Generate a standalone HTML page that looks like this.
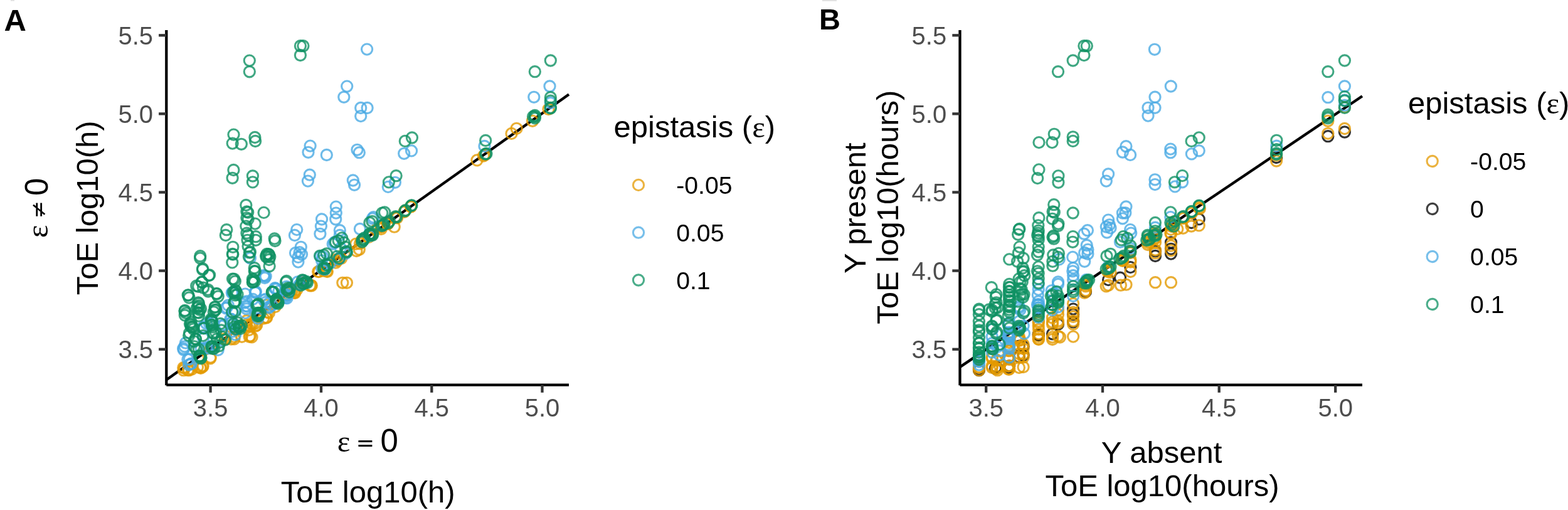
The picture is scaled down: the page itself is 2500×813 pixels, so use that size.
<!DOCTYPE html>
<html><head><meta charset="utf-8"><style>
html,body{margin:0;padding:0;background:#fff;}
svg{display:block;}
text{font-family:"Liberation Sans",Arial,sans-serif;}
.tk{font-size:40px;fill:#4D4D4D;}
.tt{font-size:49px;fill:#000;}
.lb{font-size:39.2px;fill:#000;}
.ser{font-family:"Liberation Serif","DejaVu Serif",serif;}
.dj{font-family:"DejaVu Sans",sans-serif;fill:#000;}
.pl{font-size:49px;font-weight:bold;fill:#000;}
.pts circle{fill:none;stroke-width:3.1;stroke-opacity:0.8;}
</style></head><body>
<svg width="2500" height="813" viewBox="0 0 2500 813">
<rect width="2500" height="813" fill="#fff"/>
<rect x="17" y="0" width="6" height="1.6" fill="#dedede"/>
<rect x="1311" y="0" width="23" height="2" fill="#e2e2e2"/>
<text x="6.4" y="48.6" class="pl">A</text>
<text x="1306" y="47.2" class="pl" style="font-size:47px">B</text>
<text x="537.8" y="719.5" class="tt ser">ε</text>
<text x="567.7" y="718.3" class="dj" style="font-size:35px">=</text>
<text x="606.6" y="719.5" class="tt" style="font-size:51px">0</text>
<text x="586.7" y="801.2" class="tt" text-anchor="middle">ToE log10(h)</text>
<g transform="translate(76,379.3) rotate(-90)"><text x="0" y="0" class="tt ser">ε</text><text x="30.9" y="-2.9" class="dj" style="font-size:34px">≠</text><text x="67.3" y="0" class="tt" style="font-size:51px">0</text></g>
<text transform="translate(156.1,331.3) rotate(-90)" class="tt" text-anchor="middle">ToE log10(h)</text>
<text x="1852.1" y="738.2" class="tt" text-anchor="middle">Y absent</text>
<text x="1853" y="791.3" class="tt" text-anchor="middle">ToE log10(hours)</text>
<text transform="translate(1380.2,331.7) rotate(-90)" class="tt" text-anchor="middle">Y present</text>
<text transform="translate(1432.2,330.2) rotate(-90)" class="tt" text-anchor="middle">ToE log10(hours)</text>
<text x="978.6" y="218.6" class="tt">epistasis (<tspan class="ser">ε</tspan>)</text>
<circle cx="1018" cy="294.9" r="8.6" fill="none" stroke="#E49A00" stroke-width="3.1" stroke-opacity="0.75"/>
<text x="1078.2" y="309.0" class="lb">-0.05</text>
<circle cx="1018" cy="370.7" r="8.6" fill="none" stroke="#4AAAE3" stroke-width="3.1" stroke-opacity="0.75"/>
<text x="1078.2" y="384.8" class="lb">0.05</text>
<circle cx="1018" cy="446.5" r="8.6" fill="none" stroke="#0F9163" stroke-width="3.1" stroke-opacity="0.75"/>
<text x="1078.2" y="460.6" class="lb">0.1</text>
<text x="2244.9" y="180.5" class="tt">epistasis (<tspan class="ser">ε</tspan>)</text>
<circle cx="2283.7" cy="257.0" r="8.6" fill="none" stroke="#E49A00" stroke-width="3.1" stroke-opacity="0.75"/>
<text x="2344.1" y="271.3" class="lb">-0.05</text>
<circle cx="2283.7" cy="333.0" r="8.6" fill="none" stroke="#000000" stroke-width="3.1" stroke-opacity="0.75"/>
<text x="2344.1" y="347.3" class="lb">0</text>
<circle cx="2283.7" cy="409.0" r="8.6" fill="none" stroke="#4AAAE3" stroke-width="3.1" stroke-opacity="0.75"/>
<text x="2344.1" y="423.3" class="lb">0.05</text>
<circle cx="2283.7" cy="485.0" r="8.6" fill="none" stroke="#0F9163" stroke-width="3.1" stroke-opacity="0.75"/>
<text x="2344.1" y="499.3" class="lb">0.1</text>
<line x1="265.3" y1="605.5" x2="907" y2="150.6" stroke="#000" stroke-width="4.3" stroke-linecap="butt"/>
<line x1="1530.5" y1="585.1" x2="2172" y2="153.3" stroke="#000" stroke-width="4.3" stroke-linecap="butt"/>
<g class="pts">
<circle cx="815.5" cy="212.9" r="8.6" stroke="#E49A00"/>
<circle cx="823.6" cy="204.8" r="8.6" stroke="#E49A00"/>
<circle cx="874.5" cy="174.0" r="8.6" stroke="#E49A00"/>
<circle cx="849.0" cy="192.8" r="8.6" stroke="#E49A00"/>
<circle cx="573.9" cy="388.3" r="8.6" stroke="#E49A00"/>
<circle cx="602.7" cy="361.7" r="8.6" stroke="#E49A00"/>
<circle cx="655.3" cy="329.6" r="8.6" stroke="#E49A00"/>
<circle cx="645.4" cy="336.2" r="8.6" stroke="#E49A00"/>
<circle cx="633.2" cy="347.3" r="8.6" stroke="#E49A00"/>
<circle cx="618.8" cy="356.2" r="8.6" stroke="#E49A00"/>
<circle cx="628.7" cy="361.7" r="8.6" stroke="#E49A00"/>
<circle cx="607.7" cy="365.0" r="8.6" stroke="#E49A00"/>
<circle cx="592.2" cy="375.0" r="8.6" stroke="#E49A00"/>
<circle cx="760.5" cy="255.4" r="8.6" stroke="#E49A00"/>
<circle cx="770.9" cy="248.6" r="8.6" stroke="#E49A00"/>
<circle cx="520.8" cy="432.0" r="8.6" stroke="#E49A00"/>
<circle cx="508.6" cy="433.1" r="8.6" stroke="#E49A00"/>
<circle cx="537.4" cy="415.4" r="8.6" stroke="#E49A00"/>
<circle cx="535.2" cy="418.7" r="8.6" stroke="#E49A00"/>
<circle cx="544.1" cy="412.1" r="8.6" stroke="#E49A00"/>
<circle cx="568.4" cy="400.0" r="8.6" stroke="#E49A00"/>
<circle cx="572.8" cy="397.7" r="8.6" stroke="#E49A00"/>
<circle cx="567.3" cy="388.9" r="8.6" stroke="#E49A00"/>
<circle cx="546.3" cy="450.8" r="8.6" stroke="#E49A00"/>
<circle cx="552.9" cy="450.8" r="8.6" stroke="#E49A00"/>
<circle cx="494.2" cy="455.3" r="8.6" stroke="#E49A00"/>
<circle cx="473.2" cy="461.9" r="8.6" stroke="#E49A00"/>
<circle cx="468.8" cy="465.2" r="8.6" stroke="#E49A00"/>
<circle cx="465.8" cy="464.1" r="8.6" stroke="#E49A00"/>
<circle cx="470.2" cy="467.1" r="8.6" stroke="#E49A00"/>
<circle cx="424.4" cy="486.3" r="8.6" stroke="#E49A00"/>
<circle cx="496.8" cy="455.3" r="8.6" stroke="#E49A00"/>
<circle cx="507.1" cy="433.1" r="8.6" stroke="#E49A00"/>
<circle cx="521.8" cy="433.1" r="8.6" stroke="#E49A00"/>
<circle cx="535.1" cy="414.0" r="8.6" stroke="#E49A00"/>
<circle cx="393.0" cy="517.8" r="8.6" stroke="#E49A00"/>
<circle cx="406.7" cy="515.8" r="8.6" stroke="#E49A00"/>
<circle cx="398.9" cy="535.5" r="8.6" stroke="#E49A00"/>
<circle cx="359.5" cy="535.5" r="8.6" stroke="#E49A00"/>
<circle cx="420.0" cy="507.6" r="8.6" stroke="#E49A00"/>
<circle cx="402.8" cy="516.2" r="8.6" stroke="#E49A00"/>
<circle cx="359.7" cy="540.3" r="8.6" stroke="#E49A00"/>
<circle cx="373.5" cy="540.3" r="8.6" stroke="#E49A00"/>
<circle cx="385.6" cy="536.8" r="8.6" stroke="#E49A00"/>
<circle cx="397.6" cy="536.8" r="8.6" stroke="#E49A00"/>
<circle cx="397.6" cy="519.6" r="8.6" stroke="#E49A00"/>
<circle cx="335.6" cy="569.6" r="8.6" stroke="#E49A00"/>
<circle cx="294.3" cy="586.8" r="8.6" stroke="#E49A00"/>
<circle cx="292.6" cy="590.2" r="8.6" stroke="#E49A00"/>
<circle cx="301.2" cy="590.2" r="8.6" stroke="#E49A00"/>
<circle cx="320.1" cy="586.8" r="8.6" stroke="#E49A00"/>
<circle cx="315.0" cy="585.1" r="8.6" stroke="#E49A00"/>
<circle cx="323.6" cy="583.3" r="8.6" stroke="#E49A00"/>
<circle cx="463.5" cy="465.1" r="8.6" stroke="#E49A00"/>
<circle cx="469.4" cy="466.6" r="8.6" stroke="#E49A00"/>
<circle cx="495.9" cy="454.8" r="8.6" stroke="#E49A00"/>
<circle cx="426.6" cy="497.6" r="8.6" stroke="#E49A00"/>
<circle cx="425.1" cy="506.4" r="8.6" stroke="#E49A00"/>
<circle cx="407.4" cy="519.7" r="8.6" stroke="#E49A00"/>
<circle cx="401.5" cy="537.4" r="8.6" stroke="#E49A00"/>
<circle cx="292.3" cy="586.1" r="8.6" stroke="#E49A00"/>
<circle cx="299.7" cy="589.8" r="8.6" stroke="#E49A00"/>
<circle cx="305.8" cy="588.6" r="8.6" stroke="#E49A00"/>
<circle cx="319.4" cy="586.1" r="8.6" stroke="#E49A00"/>
<circle cx="323.0" cy="584.9" r="8.6" stroke="#E49A00"/>
<circle cx="335.4" cy="571.3" r="8.6" stroke="#E49A00"/>
<circle cx="358.7" cy="540.6" r="8.6" stroke="#E49A00"/>
<circle cx="368.6" cy="540.6" r="8.6" stroke="#E49A00"/>
<circle cx="373.5" cy="536.9" r="8.6" stroke="#E49A00"/>
<circle cx="393.2" cy="511.2" r="8.6" stroke="#E49A00"/>
<circle cx="400.6" cy="516.1" r="8.6" stroke="#E49A00"/>
<circle cx="409.2" cy="518.6" r="8.6" stroke="#E49A00"/>
<circle cx="396.9" cy="526.0" r="8.6" stroke="#E49A00"/>
<circle cx="424.0" cy="506.3" r="8.6" stroke="#E49A00"/>
<circle cx="428.9" cy="498.9" r="8.6" stroke="#E49A00"/>
<circle cx="438.7" cy="489.0" r="8.6" stroke="#E49A00"/>
<circle cx="654.9" cy="329.1" r="8.6" stroke="#E49A00"/>
<circle cx="644.6" cy="337.9" r="8.6" stroke="#E49A00"/>
<circle cx="629.8" cy="346.7" r="8.6" stroke="#E49A00"/>
<circle cx="618.0" cy="357.0" r="8.6" stroke="#E49A00"/>
<circle cx="607.7" cy="361.5" r="8.6" stroke="#E49A00"/>
<circle cx="588.5" cy="374.7" r="8.6" stroke="#E49A00"/>
<circle cx="576.7" cy="383.5" r="8.6" stroke="#E49A00"/>
<circle cx="773.0" cy="247.0" r="8.6" stroke="#E49A00"/>
<circle cx="480.7" cy="450.0" r="8.6" stroke="#E49A00"/>
<circle cx="515.8" cy="431.6" r="8.6" stroke="#E49A00"/>
<circle cx="538.0" cy="415.0" r="8.6" stroke="#E49A00"/>
<circle cx="549.0" cy="404.0" r="8.6" stroke="#E49A00"/>
<circle cx="576.7" cy="385.5" r="8.6" stroke="#E49A00"/>
<circle cx="587.7" cy="378.0" r="8.6" stroke="#E49A00"/>
<circle cx="608.0" cy="361.5" r="8.6" stroke="#E49A00"/>
<circle cx="316.0" cy="570.5" r="8.6" stroke="#E49A00"/>
<circle cx="336.0" cy="555.0" r="8.6" stroke="#E49A00"/>
<circle cx="378.0" cy="524.0" r="8.6" stroke="#E49A00"/>
<circle cx="409.0" cy="502.0" r="8.6" stroke="#E49A00"/>
<circle cx="438.0" cy="482.0" r="8.6" stroke="#E49A00"/>
<circle cx="458.0" cy="468.6" r="8.6" stroke="#E49A00"/>
<circle cx="553.2" cy="137.6" r="8.6" stroke="#4AAAE3"/>
<circle cx="548.3" cy="154.8" r="8.6" stroke="#4AAAE3"/>
<circle cx="585.1" cy="78.6" r="8.6" stroke="#4AAAE3"/>
<circle cx="575.2" cy="172.0" r="8.6" stroke="#4AAAE3"/>
<circle cx="585.6" cy="172.0" r="8.6" stroke="#4AAAE3"/>
<circle cx="575.2" cy="185.1" r="8.6" stroke="#4AAAE3"/>
<circle cx="772.5" cy="233.0" r="8.6" stroke="#4AAAE3"/>
<circle cx="876.5" cy="137.5" r="8.6" stroke="#4AAAE3"/>
<circle cx="851.3" cy="154.8" r="8.6" stroke="#4AAAE3"/>
<circle cx="877.8" cy="164.0" r="8.6" stroke="#4AAAE3"/>
<circle cx="494.6" cy="232.6" r="8.6" stroke="#4AAAE3"/>
<circle cx="491.5" cy="242.8" r="8.6" stroke="#4AAAE3"/>
<circle cx="520.8" cy="247.0" r="8.6" stroke="#4AAAE3"/>
<circle cx="569.5" cy="238.8" r="8.6" stroke="#4AAAE3"/>
<circle cx="572.8" cy="243.2" r="8.6" stroke="#4AAAE3"/>
<circle cx="493.8" cy="278.7" r="8.6" stroke="#4AAAE3"/>
<circle cx="490.9" cy="288.6" r="8.6" stroke="#4AAAE3"/>
<circle cx="562.8" cy="287.5" r="8.6" stroke="#4AAAE3"/>
<circle cx="565.0" cy="294.8" r="8.6" stroke="#4AAAE3"/>
<circle cx="535.8" cy="329.6" r="8.6" stroke="#4AAAE3"/>
<circle cx="535.8" cy="339.6" r="8.6" stroke="#4AAAE3"/>
<circle cx="535.2" cy="349.5" r="8.6" stroke="#4AAAE3"/>
<circle cx="513.0" cy="349.5" r="8.6" stroke="#4AAAE3"/>
<circle cx="511.9" cy="360.6" r="8.6" stroke="#4AAAE3"/>
<circle cx="510.4" cy="372.8" r="8.6" stroke="#4AAAE3"/>
<circle cx="473.2" cy="366.1" r="8.6" stroke="#4AAAE3"/>
<circle cx="469.9" cy="375.0" r="8.6" stroke="#4AAAE3"/>
<circle cx="479.8" cy="393.8" r="8.6" stroke="#4AAAE3"/>
<circle cx="541.8" cy="367.2" r="8.6" stroke="#4AAAE3"/>
<circle cx="541.8" cy="375.0" r="8.6" stroke="#4AAAE3"/>
<circle cx="534.0" cy="386.0" r="8.6" stroke="#4AAAE3"/>
<circle cx="573.9" cy="365.0" r="8.6" stroke="#4AAAE3"/>
<circle cx="593.8" cy="348.4" r="8.6" stroke="#4AAAE3"/>
<circle cx="644.2" cy="244.8" r="8.6" stroke="#4AAAE3"/>
<circle cx="656.0" cy="240.4" r="8.6" stroke="#4AAAE3"/>
<circle cx="629.9" cy="290.8" r="8.6" stroke="#4AAAE3"/>
<circle cx="618.8" cy="297.9" r="8.6" stroke="#4AAAE3"/>
<circle cx="595.5" cy="346.2" r="8.6" stroke="#4AAAE3"/>
<circle cx="477.6" cy="402.1" r="8.6" stroke="#4AAAE3"/>
<circle cx="481.0" cy="405.5" r="8.6" stroke="#4AAAE3"/>
<circle cx="475.4" cy="409.9" r="8.6" stroke="#4AAAE3"/>
<circle cx="475.4" cy="417.6" r="8.6" stroke="#4AAAE3"/>
<circle cx="471.0" cy="403.2" r="8.6" stroke="#4AAAE3"/>
<circle cx="510.8" cy="408.8" r="8.6" stroke="#4AAAE3"/>
<circle cx="513.0" cy="415.4" r="8.6" stroke="#4AAAE3"/>
<circle cx="513.0" cy="427.6" r="8.6" stroke="#4AAAE3"/>
<circle cx="533.0" cy="386.6" r="8.6" stroke="#4AAAE3"/>
<circle cx="543.0" cy="395.5" r="8.6" stroke="#4AAAE3"/>
<circle cx="550.7" cy="404.4" r="8.6" stroke="#4AAAE3"/>
<circle cx="423.7" cy="440.5" r="8.6" stroke="#4AAAE3"/>
<circle cx="439.2" cy="459.7" r="8.6" stroke="#4AAAE3"/>
<circle cx="456.9" cy="456.8" r="8.6" stroke="#4AAAE3"/>
<circle cx="455.4" cy="474.5" r="8.6" stroke="#4AAAE3"/>
<circle cx="428.9" cy="483.3" r="8.6" stroke="#4AAAE3"/>
<circle cx="474.6" cy="449.4" r="8.6" stroke="#4AAAE3"/>
<circle cx="477.6" cy="453.8" r="8.6" stroke="#4AAAE3"/>
<circle cx="514.5" cy="409.5" r="8.6" stroke="#4AAAE3"/>
<circle cx="526.3" cy="419.9" r="8.6" stroke="#4AAAE3"/>
<circle cx="530.7" cy="388.9" r="8.6" stroke="#4AAAE3"/>
<circle cx="478.7" cy="453.1" r="8.6" stroke="#4AAAE3"/>
<circle cx="444.4" cy="464.1" r="8.6" stroke="#4AAAE3"/>
<circle cx="457.7" cy="470.8" r="8.6" stroke="#4AAAE3"/>
<circle cx="324.1" cy="521.7" r="8.6" stroke="#4AAAE3"/>
<circle cx="333.9" cy="515.8" r="8.6" stroke="#4AAAE3"/>
<circle cx="371.3" cy="466.6" r="8.6" stroke="#4AAAE3"/>
<circle cx="361.5" cy="490.2" r="8.6" stroke="#4AAAE3"/>
<circle cx="371.3" cy="498.1" r="8.6" stroke="#4AAAE3"/>
<circle cx="398.9" cy="411.5" r="8.6" stroke="#4AAAE3"/>
<circle cx="420.5" cy="439.1" r="8.6" stroke="#4AAAE3"/>
<circle cx="407.7" cy="464.6" r="8.6" stroke="#4AAAE3"/>
<circle cx="391.0" cy="468.6" r="8.6" stroke="#4AAAE3"/>
<circle cx="391.0" cy="482.4" r="8.6" stroke="#4AAAE3"/>
<circle cx="393.0" cy="492.2" r="8.6" stroke="#4AAAE3"/>
<circle cx="420.5" cy="478.4" r="8.6" stroke="#4AAAE3"/>
<circle cx="371.3" cy="517.8" r="8.6" stroke="#4AAAE3"/>
<circle cx="375.2" cy="533.5" r="8.6" stroke="#4AAAE3"/>
<circle cx="357.5" cy="517.8" r="8.6" stroke="#4AAAE3"/>
<circle cx="394.2" cy="488.6" r="8.6" stroke="#4AAAE3"/>
<circle cx="411.4" cy="507.6" r="8.6" stroke="#4AAAE3"/>
<circle cx="325.3" cy="523.1" r="8.6" stroke="#4AAAE3"/>
<circle cx="339.1" cy="514.4" r="8.6" stroke="#4AAAE3"/>
<circle cx="352.8" cy="519.6" r="8.6" stroke="#4AAAE3"/>
<circle cx="368.3" cy="514.4" r="8.6" stroke="#4AAAE3"/>
<circle cx="375.2" cy="524.8" r="8.6" stroke="#4AAAE3"/>
<circle cx="294.3" cy="552.3" r="8.6" stroke="#4AAAE3"/>
<circle cx="292.6" cy="557.5" r="8.6" stroke="#4AAAE3"/>
<circle cx="328.7" cy="554.0" r="8.6" stroke="#4AAAE3"/>
<circle cx="299.4" cy="573.0" r="8.6" stroke="#4AAAE3"/>
<circle cx="304.6" cy="580.0" r="8.6" stroke="#4AAAE3"/>
<circle cx="301.2" cy="581.6" r="8.6" stroke="#4AAAE3"/>
<circle cx="456.1" cy="469.5" r="8.6" stroke="#4AAAE3"/>
<circle cx="457.6" cy="475.4" r="8.6" stroke="#4AAAE3"/>
<circle cx="438.4" cy="459.2" r="8.6" stroke="#4AAAE3"/>
<circle cx="423.6" cy="476.9" r="8.6" stroke="#4AAAE3"/>
<circle cx="429.5" cy="488.7" r="8.6" stroke="#4AAAE3"/>
<circle cx="407.4" cy="466.6" r="8.6" stroke="#4AAAE3"/>
<circle cx="403.0" cy="477.0" r="8.6" stroke="#4AAAE3"/>
<circle cx="422.1" cy="443.0" r="8.6" stroke="#4AAAE3"/>
<circle cx="292.3" cy="555.4" r="8.6" stroke="#4AAAE3"/>
<circle cx="296.0" cy="546.7" r="8.6" stroke="#4AAAE3"/>
<circle cx="302.1" cy="572.6" r="8.6" stroke="#4AAAE3"/>
<circle cx="304.6" cy="580.0" r="8.6" stroke="#4AAAE3"/>
<circle cx="324.3" cy="539.4" r="8.6" stroke="#4AAAE3"/>
<circle cx="320.6" cy="555.4" r="8.6" stroke="#4AAAE3"/>
<circle cx="331.7" cy="555.4" r="8.6" stroke="#4AAAE3"/>
<circle cx="368.6" cy="514.8" r="8.6" stroke="#4AAAE3"/>
<circle cx="371.0" cy="528.3" r="8.6" stroke="#4AAAE3"/>
<circle cx="347.7" cy="557.8" r="8.6" stroke="#4AAAE3"/>
<circle cx="323.0" cy="522.1" r="8.6" stroke="#4AAAE3"/>
<circle cx="369.8" cy="466.7" r="8.6" stroke="#4AAAE3"/>
<circle cx="360.0" cy="491.3" r="8.6" stroke="#4AAAE3"/>
<circle cx="368.6" cy="508.6" r="8.6" stroke="#4AAAE3"/>
<circle cx="329.2" cy="516.0" r="8.6" stroke="#4AAAE3"/>
<circle cx="421.5" cy="439.8" r="8.6" stroke="#4AAAE3"/>
<circle cx="406.7" cy="465.7" r="8.6" stroke="#4AAAE3"/>
<circle cx="393.2" cy="480.4" r="8.6" stroke="#4AAAE3"/>
<circle cx="392.0" cy="487.8" r="8.6" stroke="#4AAAE3"/>
<circle cx="390.8" cy="498.9" r="8.6" stroke="#4AAAE3"/>
<circle cx="372.3" cy="466.9" r="8.6" stroke="#4AAAE3"/>
<circle cx="440.0" cy="460.8" r="8.6" stroke="#4AAAE3"/>
<circle cx="424.0" cy="481.7" r="8.6" stroke="#4AAAE3"/>
<circle cx="428.9" cy="490.3" r="8.6" stroke="#4AAAE3"/>
<circle cx="433.8" cy="486.6" r="8.6" stroke="#4AAAE3"/>
<circle cx="454.7" cy="471.8" r="8.6" stroke="#4AAAE3"/>
<circle cx="363.7" cy="486.6" r="8.6" stroke="#4AAAE3"/>
<circle cx="367.4" cy="508.7" r="8.6" stroke="#4AAAE3"/>
<circle cx="482.7" cy="448.0" r="8.6" stroke="#4AAAE3"/>
<circle cx="517.8" cy="429.6" r="8.6" stroke="#4AAAE3"/>
<circle cx="540.0" cy="413.0" r="8.6" stroke="#4AAAE3"/>
<circle cx="551.0" cy="402.0" r="8.6" stroke="#4AAAE3"/>
<circle cx="578.7" cy="383.5" r="8.6" stroke="#4AAAE3"/>
<circle cx="589.7" cy="376.0" r="8.6" stroke="#4AAAE3"/>
<circle cx="610.0" cy="359.5" r="8.6" stroke="#4AAAE3"/>
<circle cx="318.0" cy="568.5" r="8.6" stroke="#4AAAE3"/>
<circle cx="338.0" cy="553.0" r="8.6" stroke="#4AAAE3"/>
<circle cx="380.0" cy="522.0" r="8.6" stroke="#4AAAE3"/>
<circle cx="411.0" cy="500.0" r="8.6" stroke="#4AAAE3"/>
<circle cx="440.0" cy="480.0" r="8.6" stroke="#4AAAE3"/>
<circle cx="460.0" cy="466.6" r="8.6" stroke="#4AAAE3"/>
<circle cx="397.8" cy="96.6" r="8.6" stroke="#0F9163"/>
<circle cx="397.8" cy="114.3" r="8.6" stroke="#0F9163"/>
<circle cx="478.9" cy="88.0" r="8.6" stroke="#0F9163"/>
<circle cx="478.9" cy="73.2" r="8.6" stroke="#0F9163"/>
<circle cx="483.4" cy="73.2" r="8.6" stroke="#0F9163"/>
<circle cx="372.5" cy="214.6" r="8.6" stroke="#0F9163"/>
<circle cx="370.7" cy="228.6" r="8.6" stroke="#0F9163"/>
<circle cx="384.8" cy="229.8" r="8.6" stroke="#0F9163"/>
<circle cx="406.4" cy="219.0" r="8.6" stroke="#0F9163"/>
<circle cx="407.1" cy="225.0" r="8.6" stroke="#0F9163"/>
<circle cx="645.8" cy="224.9" r="8.6" stroke="#0F9163"/>
<circle cx="656.9" cy="219.5" r="8.6" stroke="#0F9163"/>
<circle cx="774.2" cy="224.0" r="8.6" stroke="#0F9163"/>
<circle cx="877.8" cy="96.5" r="8.6" stroke="#0F9163"/>
<circle cx="852.8" cy="114.2" r="8.6" stroke="#0F9163"/>
<circle cx="877.8" cy="155.2" r="8.6" stroke="#0F9163"/>
<circle cx="877.8" cy="160.7" r="8.6" stroke="#0F9163"/>
<circle cx="877.8" cy="171.8" r="8.6" stroke="#0F9163"/>
<circle cx="852.8" cy="184.0" r="8.6" stroke="#0F9163"/>
<circle cx="852.8" cy="188.4" r="8.6" stroke="#0F9163"/>
<circle cx="850.0" cy="186.0" r="8.6" stroke="#0F9163"/>
<circle cx="372.4" cy="271.0" r="8.6" stroke="#0F9163"/>
<circle cx="370.6" cy="283.8" r="8.6" stroke="#0F9163"/>
<circle cx="402.9" cy="280.5" r="8.6" stroke="#0F9163"/>
<circle cx="402.9" cy="290.4" r="8.6" stroke="#0F9163"/>
<circle cx="392.3" cy="327.0" r="8.6" stroke="#0F9163"/>
<circle cx="393.4" cy="337.4" r="8.6" stroke="#0F9163"/>
<circle cx="395.2" cy="338.5" r="8.6" stroke="#0F9163"/>
<circle cx="393.4" cy="347.3" r="8.6" stroke="#0F9163"/>
<circle cx="395.6" cy="349.6" r="8.6" stroke="#0F9163"/>
<circle cx="406.7" cy="356.6" r="8.6" stroke="#0F9163"/>
<circle cx="392.3" cy="360.6" r="8.6" stroke="#0F9163"/>
<circle cx="393.4" cy="371.7" r="8.6" stroke="#0F9163"/>
<circle cx="395.6" cy="375.0" r="8.6" stroke="#0F9163"/>
<circle cx="394.5" cy="382.8" r="8.6" stroke="#0F9163"/>
<circle cx="407.8" cy="377.2" r="8.6" stroke="#0F9163"/>
<circle cx="407.8" cy="382.8" r="8.6" stroke="#0F9163"/>
<circle cx="395.6" cy="392.7" r="8.6" stroke="#0F9163"/>
<circle cx="420.6" cy="338.9" r="8.6" stroke="#0F9163"/>
<circle cx="361.3" cy="366.2" r="8.6" stroke="#0F9163"/>
<circle cx="359.8" cy="375.0" r="8.6" stroke="#0F9163"/>
<circle cx="371.3" cy="393.8" r="8.6" stroke="#0F9163"/>
<circle cx="370.8" cy="404.9" r="8.6" stroke="#0F9163"/>
<circle cx="319.2" cy="408.2" r="8.6" stroke="#0F9163"/>
<circle cx="397.8" cy="402.7" r="8.6" stroke="#0F9163"/>
<circle cx="425.5" cy="404.9" r="8.6" stroke="#0F9163"/>
<circle cx="429.0" cy="406.0" r="8.6" stroke="#0F9163"/>
<circle cx="437.7" cy="380.5" r="8.6" stroke="#0F9163"/>
<circle cx="438.5" cy="384.0" r="8.6" stroke="#0F9163"/>
<circle cx="545.1" cy="379.4" r="8.6" stroke="#0F9163"/>
<circle cx="539.6" cy="383.8" r="8.6" stroke="#0F9163"/>
<circle cx="550.7" cy="393.8" r="8.6" stroke="#0F9163"/>
<circle cx="589.4" cy="355.0" r="8.6" stroke="#0F9163"/>
<circle cx="580.6" cy="379.4" r="8.6" stroke="#0F9163"/>
<circle cx="589.4" cy="372.8" r="8.6" stroke="#0F9163"/>
<circle cx="593.8" cy="375.0" r="8.6" stroke="#0F9163"/>
<circle cx="609.3" cy="339.6" r="8.6" stroke="#0F9163"/>
<circle cx="631.6" cy="280.2" r="8.6" stroke="#0F9163"/>
<circle cx="619.9" cy="290.4" r="8.6" stroke="#0F9163"/>
<circle cx="613.2" cy="338.4" r="8.6" stroke="#0F9163"/>
<circle cx="593.3" cy="352.8" r="8.6" stroke="#0F9163"/>
<circle cx="656.4" cy="327.4" r="8.6" stroke="#0F9163"/>
<circle cx="646.5" cy="335.1" r="8.6" stroke="#0F9163"/>
<circle cx="632.1" cy="346.2" r="8.6" stroke="#0F9163"/>
<circle cx="621.0" cy="352.8" r="8.6" stroke="#0F9163"/>
<circle cx="612.1" cy="357.3" r="8.6" stroke="#0F9163"/>
<circle cx="594.4" cy="372.8" r="8.6" stroke="#0F9163"/>
<circle cx="775.5" cy="245.0" r="8.6" stroke="#0F9163"/>
<circle cx="516.4" cy="406.6" r="8.6" stroke="#0F9163"/>
<circle cx="520.8" cy="404.4" r="8.6" stroke="#0F9163"/>
<circle cx="521.9" cy="422.1" r="8.6" stroke="#0F9163"/>
<circle cx="516.4" cy="426.5" r="8.6" stroke="#0F9163"/>
<circle cx="548.5" cy="386.6" r="8.6" stroke="#0F9163"/>
<circle cx="552.9" cy="402.1" r="8.6" stroke="#0F9163"/>
<circle cx="537.4" cy="408.8" r="8.6" stroke="#0F9163"/>
<circle cx="577.3" cy="385.5" r="8.6" stroke="#0F9163"/>
<circle cx="428.1" cy="405.1" r="8.6" stroke="#0F9163"/>
<circle cx="430.3" cy="409.5" r="8.6" stroke="#0F9163"/>
<circle cx="428.9" cy="414.0" r="8.6" stroke="#0F9163"/>
<circle cx="429.6" cy="424.3" r="8.6" stroke="#0F9163"/>
<circle cx="424.4" cy="409.5" r="8.6" stroke="#0F9163"/>
<circle cx="456.9" cy="447.9" r="8.6" stroke="#0F9163"/>
<circle cx="436.2" cy="465.6" r="8.6" stroke="#0F9163"/>
<circle cx="458.4" cy="462.7" r="8.6" stroke="#0F9163"/>
<circle cx="440.7" cy="477.4" r="8.6" stroke="#0F9163"/>
<circle cx="443.6" cy="481.8" r="8.6" stroke="#0F9163"/>
<circle cx="482.0" cy="446.4" r="8.6" stroke="#0F9163"/>
<circle cx="486.4" cy="450.8" r="8.6" stroke="#0F9163"/>
<circle cx="483.5" cy="452.3" r="8.6" stroke="#0F9163"/>
<circle cx="510.0" cy="408.0" r="8.6" stroke="#0F9163"/>
<circle cx="515.9" cy="428.7" r="8.6" stroke="#0F9163"/>
<circle cx="521.8" cy="422.8" r="8.6" stroke="#0F9163"/>
<circle cx="535.1" cy="385.9" r="8.6" stroke="#0F9163"/>
<circle cx="489.8" cy="450.8" r="8.6" stroke="#0F9163"/>
<circle cx="462.1" cy="459.7" r="8.6" stroke="#0F9163"/>
<circle cx="443.3" cy="484.1" r="8.6" stroke="#0F9163"/>
<circle cx="319.1" cy="411.5" r="8.6" stroke="#0F9163"/>
<circle cx="323.1" cy="428.2" r="8.6" stroke="#0F9163"/>
<circle cx="332.9" cy="439.1" r="8.6" stroke="#0F9163"/>
<circle cx="322.1" cy="449.9" r="8.6" stroke="#0F9163"/>
<circle cx="316.2" cy="456.8" r="8.6" stroke="#0F9163"/>
<circle cx="324.1" cy="458.7" r="8.6" stroke="#0F9163"/>
<circle cx="300.4" cy="470.6" r="8.6" stroke="#0F9163"/>
<circle cx="301.4" cy="474.5" r="8.6" stroke="#0F9163"/>
<circle cx="345.7" cy="468.6" r="8.6" stroke="#0F9163"/>
<circle cx="347.7" cy="472.5" r="8.6" stroke="#0F9163"/>
<circle cx="331.9" cy="464.6" r="8.6" stroke="#0F9163"/>
<circle cx="316.2" cy="482.4" r="8.6" stroke="#0F9163"/>
<circle cx="317.2" cy="487.3" r="8.6" stroke="#0F9163"/>
<circle cx="320.1" cy="492.2" r="8.6" stroke="#0F9163"/>
<circle cx="315.2" cy="498.1" r="8.6" stroke="#0F9163"/>
<circle cx="294.5" cy="496.1" r="8.6" stroke="#0F9163"/>
<circle cx="296.5" cy="499.1" r="8.6" stroke="#0F9163"/>
<circle cx="342.8" cy="489.3" r="8.6" stroke="#0F9163"/>
<circle cx="342.8" cy="494.2" r="8.6" stroke="#0F9163"/>
<circle cx="304.4" cy="517.8" r="8.6" stroke="#0F9163"/>
<circle cx="307.3" cy="521.7" r="8.6" stroke="#0F9163"/>
<circle cx="336.8" cy="510.9" r="8.6" stroke="#0F9163"/>
<circle cx="337.8" cy="517.8" r="8.6" stroke="#0F9163"/>
<circle cx="343.7" cy="529.6" r="8.6" stroke="#0F9163"/>
<circle cx="373.3" cy="445.0" r="8.6" stroke="#0F9163"/>
<circle cx="375.2" cy="462.7" r="8.6" stroke="#0F9163"/>
<circle cx="375.2" cy="470.6" r="8.6" stroke="#0F9163"/>
<circle cx="375.2" cy="480.4" r="8.6" stroke="#0F9163"/>
<circle cx="371.3" cy="405.6" r="8.6" stroke="#0F9163"/>
<circle cx="370.3" cy="418.4" r="8.6" stroke="#0F9163"/>
<circle cx="398.9" cy="401.7" r="8.6" stroke="#0F9163"/>
<circle cx="396.9" cy="409.5" r="8.6" stroke="#0F9163"/>
<circle cx="405.7" cy="427.2" r="8.6" stroke="#0F9163"/>
<circle cx="405.7" cy="432.2" r="8.6" stroke="#0F9163"/>
<circle cx="402.8" cy="445.0" r="8.6" stroke="#0F9163"/>
<circle cx="402.8" cy="449.9" r="8.6" stroke="#0F9163"/>
<circle cx="410.7" cy="486.3" r="8.6" stroke="#0F9163"/>
<circle cx="411.7" cy="500.1" r="8.6" stroke="#0F9163"/>
<circle cx="424.4" cy="407.6" r="8.6" stroke="#0F9163"/>
<circle cx="381.1" cy="521.7" r="8.6" stroke="#0F9163"/>
<circle cx="383.0" cy="524.0" r="8.6" stroke="#0F9163"/>
<circle cx="340.8" cy="497.2" r="8.6" stroke="#0F9163"/>
<circle cx="370.1" cy="497.2" r="8.6" stroke="#0F9163"/>
<circle cx="411.4" cy="502.4" r="8.6" stroke="#0F9163"/>
<circle cx="415.0" cy="499.0" r="8.6" stroke="#0F9163"/>
<circle cx="302.9" cy="516.2" r="8.6" stroke="#0F9163"/>
<circle cx="306.3" cy="521.3" r="8.6" stroke="#0F9163"/>
<circle cx="325.3" cy="523.1" r="8.6" stroke="#0F9163"/>
<circle cx="337.3" cy="511.0" r="8.6" stroke="#0F9163"/>
<circle cx="339.1" cy="521.3" r="8.6" stroke="#0F9163"/>
<circle cx="352.8" cy="526.5" r="8.6" stroke="#0F9163"/>
<circle cx="340.8" cy="531.7" r="8.6" stroke="#0F9163"/>
<circle cx="378.7" cy="514.4" r="8.6" stroke="#0F9163"/>
<circle cx="382.1" cy="521.3" r="8.6" stroke="#0F9163"/>
<circle cx="385.0" cy="519.0" r="8.6" stroke="#0F9163"/>
<circle cx="301.2" cy="535.1" r="8.6" stroke="#0F9163"/>
<circle cx="311.5" cy="540.3" r="8.6" stroke="#0F9163"/>
<circle cx="309.8" cy="552.3" r="8.6" stroke="#0F9163"/>
<circle cx="313.2" cy="557.5" r="8.6" stroke="#0F9163"/>
<circle cx="337.3" cy="552.3" r="8.6" stroke="#0F9163"/>
<circle cx="339.1" cy="555.8" r="8.6" stroke="#0F9163"/>
<circle cx="318.4" cy="567.8" r="8.6" stroke="#0F9163"/>
<circle cx="320.1" cy="571.3" r="8.6" stroke="#0F9163"/>
<circle cx="323.6" cy="535.1" r="8.6" stroke="#0F9163"/>
<circle cx="346.0" cy="540.3" r="8.6" stroke="#0F9163"/>
<circle cx="351.1" cy="545.4" r="8.6" stroke="#0F9163"/>
<circle cx="459.0" cy="459.2" r="8.6" stroke="#0F9163"/>
<circle cx="482.7" cy="451.8" r="8.6" stroke="#0F9163"/>
<circle cx="488.6" cy="448.9" r="8.6" stroke="#0F9163"/>
<circle cx="479.7" cy="454.8" r="8.6" stroke="#0F9163"/>
<circle cx="434.0" cy="465.1" r="8.6" stroke="#0F9163"/>
<circle cx="440.6" cy="476.9" r="8.6" stroke="#0F9163"/>
<circle cx="442.8" cy="481.3" r="8.6" stroke="#0F9163"/>
<circle cx="411.1" cy="499.0" r="8.6" stroke="#0F9163"/>
<circle cx="412.5" cy="503.5" r="8.6" stroke="#0F9163"/>
<circle cx="411.8" cy="484.3" r="8.6" stroke="#0F9163"/>
<circle cx="405.9" cy="448.9" r="8.6" stroke="#0F9163"/>
<circle cx="304.6" cy="520.9" r="8.6" stroke="#0F9163"/>
<circle cx="308.3" cy="524.6" r="8.6" stroke="#0F9163"/>
<circle cx="324.3" cy="523.4" r="8.6" stroke="#0F9163"/>
<circle cx="337.8" cy="512.3" r="8.6" stroke="#0F9163"/>
<circle cx="337.8" cy="518.5" r="8.6" stroke="#0F9163"/>
<circle cx="340.3" cy="530.8" r="8.6" stroke="#0F9163"/>
<circle cx="351.3" cy="516.0" r="8.6" stroke="#0F9163"/>
<circle cx="312.0" cy="540.6" r="8.6" stroke="#0F9163"/>
<circle cx="309.5" cy="544.3" r="8.6" stroke="#0F9163"/>
<circle cx="316.9" cy="556.6" r="8.6" stroke="#0F9163"/>
<circle cx="318.1" cy="567.7" r="8.6" stroke="#0F9163"/>
<circle cx="320.6" cy="570.1" r="8.6" stroke="#0F9163"/>
<circle cx="337.8" cy="552.9" r="8.6" stroke="#0F9163"/>
<circle cx="341.5" cy="555.4" r="8.6" stroke="#0F9163"/>
<circle cx="348.9" cy="551.7" r="8.6" stroke="#0F9163"/>
<circle cx="353.8" cy="536.9" r="8.6" stroke="#0F9163"/>
<circle cx="358.7" cy="541.8" r="8.6" stroke="#0F9163"/>
<circle cx="373.5" cy="520.9" r="8.6" stroke="#0F9163"/>
<circle cx="375.9" cy="524.6" r="8.6" stroke="#0F9163"/>
<circle cx="294.8" cy="502.5" r="8.6" stroke="#0F9163"/>
<circle cx="316.9" cy="503.7" r="8.6" stroke="#0F9163"/>
<circle cx="302.1" cy="530.8" r="8.6" stroke="#0F9163"/>
<circle cx="323.0" cy="429.8" r="8.6" stroke="#0F9163"/>
<circle cx="334.1" cy="438.5" r="8.6" stroke="#0F9163"/>
<circle cx="321.8" cy="449.5" r="8.6" stroke="#0F9163"/>
<circle cx="313.2" cy="455.7" r="8.6" stroke="#0F9163"/>
<circle cx="331.7" cy="461.8" r="8.6" stroke="#0F9163"/>
<circle cx="345.2" cy="468.0" r="8.6" stroke="#0F9163"/>
<circle cx="299.7" cy="470.4" r="8.6" stroke="#0F9163"/>
<circle cx="316.9" cy="484.0" r="8.6" stroke="#0F9163"/>
<circle cx="315.7" cy="488.9" r="8.6" stroke="#0F9163"/>
<circle cx="318.1" cy="493.8" r="8.6" stroke="#0F9163"/>
<circle cx="316.9" cy="498.7" r="8.6" stroke="#0F9163"/>
<circle cx="314.0" cy="491.0" r="8.6" stroke="#0F9163"/>
<circle cx="294.8" cy="495.0" r="8.6" stroke="#0F9163"/>
<circle cx="342.7" cy="490.1" r="8.6" stroke="#0F9163"/>
<circle cx="344.0" cy="493.8" r="8.6" stroke="#0F9163"/>
<circle cx="371.0" cy="444.6" r="8.6" stroke="#0F9163"/>
<circle cx="372.3" cy="465.5" r="8.6" stroke="#0F9163"/>
<circle cx="373.5" cy="482.7" r="8.6" stroke="#0F9163"/>
<circle cx="304.6" cy="513.5" r="8.6" stroke="#0F9163"/>
<circle cx="336.6" cy="508.6" r="8.6" stroke="#0F9163"/>
<circle cx="374.8" cy="448.5" r="8.6" stroke="#0F9163"/>
<circle cx="376.0" cy="464.4" r="8.6" stroke="#0F9163"/>
<circle cx="374.8" cy="466.9" r="8.6" stroke="#0F9163"/>
<circle cx="378.5" cy="469.4" r="8.6" stroke="#0F9163"/>
<circle cx="373.5" cy="481.7" r="8.6" stroke="#0F9163"/>
<circle cx="404.3" cy="446.0" r="8.6" stroke="#0F9163"/>
<circle cx="403.0" cy="449.7" r="8.6" stroke="#0F9163"/>
<circle cx="406.7" cy="432.5" r="8.6" stroke="#0F9163"/>
<circle cx="409.2" cy="486.6" r="8.6" stroke="#0F9163"/>
<circle cx="411.7" cy="501.3" r="8.6" stroke="#0F9163"/>
<circle cx="410.4" cy="503.8" r="8.6" stroke="#0F9163"/>
<circle cx="433.8" cy="465.7" r="8.6" stroke="#0F9163"/>
<circle cx="440.0" cy="479.2" r="8.6" stroke="#0F9163"/>
<circle cx="441.2" cy="482.9" r="8.6" stroke="#0F9163"/>
<circle cx="455.9" cy="449.7" r="8.6" stroke="#0F9163"/>
<circle cx="457.2" cy="462.0" r="8.6" stroke="#0F9163"/>
<circle cx="380.9" cy="519.8" r="8.6" stroke="#0F9163"/>
<circle cx="374.8" cy="496.4" r="8.6" stroke="#0F9163"/>
<circle cx="372.3" cy="516.1" r="8.6" stroke="#0F9163"/>
<circle cx="655.9" cy="327.6" r="8.6" stroke="#0F9163"/>
<circle cx="645.6" cy="336.4" r="8.6" stroke="#0F9163"/>
<circle cx="630.8" cy="345.2" r="8.6" stroke="#0F9163"/>
<circle cx="619.0" cy="355.5" r="8.6" stroke="#0F9163"/>
<circle cx="608.7" cy="360.0" r="8.6" stroke="#0F9163"/>
<circle cx="589.5" cy="373.2" r="8.6" stroke="#0F9163"/>
<circle cx="577.7" cy="382.0" r="8.6" stroke="#0F9163"/>
<circle cx="774.0" cy="245.5" r="8.6" stroke="#0F9163"/>
<circle cx="483.7" cy="447.0" r="8.6" stroke="#0F9163"/>
<circle cx="518.8" cy="428.6" r="8.6" stroke="#0F9163"/>
<circle cx="541.0" cy="412.0" r="8.6" stroke="#0F9163"/>
<circle cx="552.0" cy="401.0" r="8.6" stroke="#0F9163"/>
<circle cx="579.7" cy="382.5" r="8.6" stroke="#0F9163"/>
<circle cx="590.7" cy="375.0" r="8.6" stroke="#0F9163"/>
<circle cx="611.0" cy="358.5" r="8.6" stroke="#0F9163"/>
<circle cx="319.0" cy="567.5" r="8.6" stroke="#0F9163"/>
<circle cx="339.0" cy="552.0" r="8.6" stroke="#0F9163"/>
<circle cx="381.0" cy="521.0" r="8.6" stroke="#0F9163"/>
<circle cx="412.0" cy="499.0" r="8.6" stroke="#0F9163"/>
<circle cx="441.0" cy="479.0" r="8.6" stroke="#0F9163"/>
<circle cx="461.0" cy="465.6" r="8.6" stroke="#0F9163"/>
<circle cx="852.8" cy="186.0" r="8.6" stroke="#0F9163"/>
<circle cx="877.8" cy="172.5" r="8.6" stroke="#0F9163"/>
</g>
<g class="pts">
<circle cx="2117.3" cy="217.2" r="8.6" stroke="#000000"/>
<circle cx="2143.9" cy="210.5" r="8.6" stroke="#000000"/>
<circle cx="1911.7" cy="349.4" r="8.6" stroke="#000000"/>
<circle cx="1899.5" cy="355.0" r="8.6" stroke="#000000"/>
<circle cx="2035.1" cy="251.0" r="8.6" stroke="#000000"/>
<circle cx="1711.1" cy="492.6" r="8.6" stroke="#000000"/>
<circle cx="1731.0" cy="465.0" r="8.6" stroke="#000000"/>
<circle cx="1767.1" cy="446.1" r="8.6" stroke="#000000"/>
<circle cx="1786.0" cy="442.7" r="8.6" stroke="#000000"/>
<circle cx="1802.4" cy="426.1" r="8.6" stroke="#000000"/>
<circle cx="1842.0" cy="400.3" r="8.6" stroke="#000000"/>
<circle cx="1842.0" cy="408.0" r="8.6" stroke="#000000"/>
<circle cx="1867.0" cy="386.5" r="8.6" stroke="#000000"/>
<circle cx="1867.0" cy="396.8" r="8.6" stroke="#000000"/>
<circle cx="1867.0" cy="404.6" r="8.6" stroke="#000000"/>
<circle cx="1561.0" cy="590.2" r="8.6" stroke="#000000"/>
<circle cx="1588.5" cy="585.0" r="8.6" stroke="#000000"/>
<circle cx="1609.2" cy="583.3" r="8.6" stroke="#000000"/>
<circle cx="1631.6" cy="552.3" r="8.6" stroke="#000000"/>
<circle cx="1631.6" cy="566.1" r="8.6" stroke="#000000"/>
<circle cx="1655.7" cy="533.4" r="8.6" stroke="#000000"/>
<circle cx="1678.0" cy="532.3" r="8.6" stroke="#000000"/>
<circle cx="1687.0" cy="516.8" r="8.6" stroke="#000000"/>
<circle cx="1711.1" cy="501.3" r="8.6" stroke="#000000"/>
<circle cx="1711.1" cy="513.4" r="8.6" stroke="#000000"/>
<circle cx="1656.0" cy="534.0" r="8.6" stroke="#000000"/>
<circle cx="1560.9" cy="588.6" r="8.6" stroke="#000000"/>
<circle cx="1587.0" cy="587.3" r="8.6" stroke="#000000"/>
<circle cx="1607.7" cy="571.3" r="8.6" stroke="#000000"/>
<circle cx="1607.7" cy="586.1" r="8.6" stroke="#000000"/>
<circle cx="1624.9" cy="551.7" r="8.6" stroke="#000000"/>
<circle cx="1624.9" cy="568.9" r="8.6" stroke="#000000"/>
<circle cx="2143.9" cy="170.7" r="8.6" stroke="#E49A00"/>
<circle cx="2117.3" cy="192.8" r="8.6" stroke="#E49A00"/>
<circle cx="2117.3" cy="212.8" r="8.6" stroke="#E49A00"/>
<circle cx="2143.9" cy="205.0" r="8.6" stroke="#E49A00"/>
<circle cx="1868.5" cy="359.4" r="8.6" stroke="#E49A00"/>
<circle cx="1866.3" cy="371.6" r="8.6" stroke="#E49A00"/>
<circle cx="1877.3" cy="364.9" r="8.6" stroke="#E49A00"/>
<circle cx="1912.8" cy="332.8" r="8.6" stroke="#E49A00"/>
<circle cx="1886.2" cy="363.8" r="8.6" stroke="#E49A00"/>
<circle cx="1911.7" cy="359.4" r="8.6" stroke="#E49A00"/>
<circle cx="1899.5" cy="360.5" r="8.6" stroke="#E49A00"/>
<circle cx="1841.0" cy="372.0" r="8.6" stroke="#E49A00"/>
<circle cx="2035.1" cy="247.6" r="8.6" stroke="#E49A00"/>
<circle cx="2035.1" cy="256.5" r="8.6" stroke="#E49A00"/>
<circle cx="1711.1" cy="484.0" r="8.6" stroke="#E49A00"/>
<circle cx="1711.1" cy="497.8" r="8.6" stroke="#E49A00"/>
<circle cx="1687.0" cy="494.3" r="8.6" stroke="#E49A00"/>
<circle cx="1731.0" cy="456.4" r="8.6" stroke="#E49A00"/>
<circle cx="1731.0" cy="463.3" r="8.6" stroke="#E49A00"/>
<circle cx="1729.2" cy="466.8" r="8.6" stroke="#E49A00"/>
<circle cx="1767.1" cy="430.6" r="8.6" stroke="#E49A00"/>
<circle cx="1770.5" cy="434.0" r="8.6" stroke="#E49A00"/>
<circle cx="1767.1" cy="454.7" r="8.6" stroke="#E49A00"/>
<circle cx="1763.7" cy="456.4" r="8.6" stroke="#E49A00"/>
<circle cx="1786.9" cy="454.7" r="8.6" stroke="#E49A00"/>
<circle cx="1802.4" cy="400.3" r="8.6" stroke="#E49A00"/>
<circle cx="1790.3" cy="415.8" r="8.6" stroke="#E49A00"/>
<circle cx="1802.4" cy="414.0" r="8.6" stroke="#E49A00"/>
<circle cx="1802.4" cy="417.5" r="8.6" stroke="#E49A00"/>
<circle cx="1802.4" cy="433.0" r="8.6" stroke="#E49A00"/>
<circle cx="1795.5" cy="453.7" r="8.6" stroke="#E49A00"/>
<circle cx="1842.0" cy="374.4" r="8.6" stroke="#E49A00"/>
<circle cx="1830.0" cy="381.3" r="8.6" stroke="#E49A00"/>
<circle cx="1830.0" cy="390.0" r="8.6" stroke="#E49A00"/>
<circle cx="1842.0" cy="386.5" r="8.6" stroke="#E49A00"/>
<circle cx="1842.0" cy="398.5" r="8.6" stroke="#E49A00"/>
<circle cx="1842.0" cy="403.7" r="8.6" stroke="#E49A00"/>
<circle cx="1842.0" cy="450.2" r="8.6" stroke="#E49A00"/>
<circle cx="1867.0" cy="450.2" r="8.6" stroke="#E49A00"/>
<circle cx="1871.3" cy="353.8" r="8.6" stroke="#E49A00"/>
<circle cx="1867.0" cy="365.8" r="8.6" stroke="#E49A00"/>
<circle cx="1867.0" cy="372.7" r="8.6" stroke="#E49A00"/>
<circle cx="1867.0" cy="391.7" r="8.6" stroke="#E49A00"/>
<circle cx="1867.0" cy="399.4" r="8.6" stroke="#E49A00"/>
<circle cx="1561.0" cy="585.0" r="8.6" stroke="#E49A00"/>
<circle cx="1561.0" cy="590.2" r="8.6" stroke="#E49A00"/>
<circle cx="1581.7" cy="571.3" r="8.6" stroke="#E49A00"/>
<circle cx="1588.5" cy="574.7" r="8.6" stroke="#E49A00"/>
<circle cx="1581.7" cy="583.3" r="8.6" stroke="#E49A00"/>
<circle cx="1588.5" cy="586.8" r="8.6" stroke="#E49A00"/>
<circle cx="1590.3" cy="590.2" r="8.6" stroke="#E49A00"/>
<circle cx="1609.2" cy="552.3" r="8.6" stroke="#E49A00"/>
<circle cx="1609.2" cy="559.2" r="8.6" stroke="#E49A00"/>
<circle cx="1609.2" cy="573.0" r="8.6" stroke="#E49A00"/>
<circle cx="1609.2" cy="583.3" r="8.6" stroke="#E49A00"/>
<circle cx="1609.2" cy="588.5" r="8.6" stroke="#E49A00"/>
<circle cx="1623.0" cy="538.5" r="8.6" stroke="#E49A00"/>
<circle cx="1626.4" cy="541.9" r="8.6" stroke="#E49A00"/>
<circle cx="1631.6" cy="548.9" r="8.6" stroke="#E49A00"/>
<circle cx="1631.6" cy="555.8" r="8.6" stroke="#E49A00"/>
<circle cx="1631.6" cy="564.4" r="8.6" stroke="#E49A00"/>
<circle cx="1631.6" cy="569.5" r="8.6" stroke="#E49A00"/>
<circle cx="1631.6" cy="585.0" r="8.6" stroke="#E49A00"/>
<circle cx="1655.7" cy="514.4" r="8.6" stroke="#E49A00"/>
<circle cx="1655.7" cy="519.6" r="8.6" stroke="#E49A00"/>
<circle cx="1655.7" cy="536.8" r="8.6" stroke="#E49A00"/>
<circle cx="1655.7" cy="540.3" r="8.6" stroke="#E49A00"/>
<circle cx="1678.0" cy="506.5" r="8.6" stroke="#E49A00"/>
<circle cx="1678.0" cy="513.4" r="8.6" stroke="#E49A00"/>
<circle cx="1678.0" cy="516.8" r="8.6" stroke="#E49A00"/>
<circle cx="1678.0" cy="537.5" r="8.6" stroke="#E49A00"/>
<circle cx="1678.0" cy="541.0" r="8.6" stroke="#E49A00"/>
<circle cx="1687.0" cy="501.3" r="8.6" stroke="#E49A00"/>
<circle cx="1687.0" cy="511.7" r="8.6" stroke="#E49A00"/>
<circle cx="1687.0" cy="515.1" r="8.6" stroke="#E49A00"/>
<circle cx="1687.0" cy="535.8" r="8.6" stroke="#E49A00"/>
<circle cx="1690.0" cy="537.5" r="8.6" stroke="#E49A00"/>
<circle cx="1711.1" cy="504.8" r="8.6" stroke="#E49A00"/>
<circle cx="1711.1" cy="511.7" r="8.6" stroke="#E49A00"/>
<circle cx="1711.1" cy="516.8" r="8.6" stroke="#E49A00"/>
<circle cx="1711.1" cy="536.6" r="8.6" stroke="#E49A00"/>
<circle cx="1656.0" cy="532.3" r="8.6" stroke="#E49A00"/>
<circle cx="1656.0" cy="541.0" r="8.6" stroke="#E49A00"/>
<circle cx="1560.9" cy="586.1" r="8.6" stroke="#E49A00"/>
<circle cx="1581.8" cy="568.9" r="8.6" stroke="#E49A00"/>
<circle cx="1589.2" cy="573.8" r="8.6" stroke="#E49A00"/>
<circle cx="1581.8" cy="586.1" r="8.6" stroke="#E49A00"/>
<circle cx="1589.2" cy="587.3" r="8.6" stroke="#E49A00"/>
<circle cx="1594.0" cy="583.6" r="8.6" stroke="#E49A00"/>
<circle cx="1607.7" cy="552.9" r="8.6" stroke="#E49A00"/>
<circle cx="1607.7" cy="559.0" r="8.6" stroke="#E49A00"/>
<circle cx="1607.7" cy="568.9" r="8.6" stroke="#E49A00"/>
<circle cx="1607.7" cy="583.6" r="8.6" stroke="#E49A00"/>
<circle cx="1607.7" cy="588.6" r="8.6" stroke="#E49A00"/>
<circle cx="1624.9" cy="536.9" r="8.6" stroke="#E49A00"/>
<circle cx="1624.9" cy="543.0" r="8.6" stroke="#E49A00"/>
<circle cx="1624.9" cy="552.9" r="8.6" stroke="#E49A00"/>
<circle cx="1624.9" cy="564.0" r="8.6" stroke="#E49A00"/>
<circle cx="1624.9" cy="570.1" r="8.6" stroke="#E49A00"/>
<circle cx="1624.9" cy="586.1" r="8.6" stroke="#E49A00"/>
<circle cx="1732.0" cy="452.0" r="8.6" stroke="#E49A00"/>
<circle cx="1731.0" cy="454.0" r="8.6" stroke="#E49A00"/>
<circle cx="1767.0" cy="431.0" r="8.6" stroke="#E49A00"/>
<circle cx="1766.0" cy="433.0" r="8.6" stroke="#E49A00"/>
<circle cx="1790.0" cy="413.0" r="8.6" stroke="#E49A00"/>
<circle cx="1789.0" cy="415.0" r="8.6" stroke="#E49A00"/>
<circle cx="1832.0" cy="385.0" r="8.6" stroke="#E49A00"/>
<circle cx="1831.0" cy="387.0" r="8.6" stroke="#E49A00"/>
<circle cx="1842.0" cy="379.0" r="8.6" stroke="#E49A00"/>
<circle cx="1841.0" cy="381.0" r="8.6" stroke="#E49A00"/>
<circle cx="1802.0" cy="403.0" r="8.6" stroke="#E49A00"/>
<circle cx="1868.0" cy="361.0" r="8.6" stroke="#E49A00"/>
<circle cx="1887.0" cy="348.0" r="8.6" stroke="#E49A00"/>
<circle cx="1900.0" cy="340.0" r="8.6" stroke="#E49A00"/>
<circle cx="1912.0" cy="331.0" r="8.6" stroke="#E49A00"/>
<circle cx="1656.0" cy="525.0" r="8.6" stroke="#E49A00"/>
<circle cx="1656.0" cy="512.0" r="8.6" stroke="#E49A00"/>
<circle cx="1609.2" cy="546.0" r="8.6" stroke="#E49A00"/>
<circle cx="1840.9" cy="78.8" r="8.6" stroke="#4AAAE3"/>
<circle cx="1866.8" cy="137.5" r="8.6" stroke="#4AAAE3"/>
<circle cx="1841.5" cy="154.7" r="8.6" stroke="#4AAAE3"/>
<circle cx="1830.5" cy="171.8" r="8.6" stroke="#4AAAE3"/>
<circle cx="1841.5" cy="171.8" r="8.6" stroke="#4AAAE3"/>
<circle cx="1830.5" cy="184.6" r="8.6" stroke="#4AAAE3"/>
<circle cx="1795.4" cy="233.2" r="8.6" stroke="#4AAAE3"/>
<circle cx="2143.9" cy="137.5" r="8.6" stroke="#4AAAE3"/>
<circle cx="2117.3" cy="155.2" r="8.6" stroke="#4AAAE3"/>
<circle cx="2143.9" cy="159.6" r="8.6" stroke="#4AAAE3"/>
<circle cx="2143.9" cy="168.0" r="8.6" stroke="#4AAAE3"/>
<circle cx="2035.4" cy="232.7" r="8.6" stroke="#4AAAE3"/>
<circle cx="1733.9" cy="367.2" r="8.6" stroke="#4AAAE3"/>
<circle cx="1728.4" cy="372.7" r="8.6" stroke="#4AAAE3"/>
<circle cx="1767.1" cy="277.5" r="8.6" stroke="#4AAAE3"/>
<circle cx="1763.8" cy="288.6" r="8.6" stroke="#4AAAE3"/>
<circle cx="1767.1" cy="350.6" r="8.6" stroke="#4AAAE3"/>
<circle cx="1763.8" cy="361.6" r="8.6" stroke="#4AAAE3"/>
<circle cx="1764.9" cy="370.5" r="8.6" stroke="#4AAAE3"/>
<circle cx="1789.9" cy="242.5" r="8.6" stroke="#4AAAE3"/>
<circle cx="1802.1" cy="246.9" r="8.6" stroke="#4AAAE3"/>
<circle cx="1866.3" cy="237.6" r="8.6" stroke="#4AAAE3"/>
<circle cx="1866.3" cy="243.2" r="8.6" stroke="#4AAAE3"/>
<circle cx="1899.9" cy="245.4" r="8.6" stroke="#4AAAE3"/>
<circle cx="1911.7" cy="240.3" r="8.6" stroke="#4AAAE3"/>
<circle cx="1841.5" cy="286.3" r="8.6" stroke="#4AAAE3"/>
<circle cx="1841.5" cy="294.1" r="8.6" stroke="#4AAAE3"/>
<circle cx="1885.1" cy="290.3" r="8.6" stroke="#4AAAE3"/>
<circle cx="1873.4" cy="297.4" r="8.6" stroke="#4AAAE3"/>
<circle cx="1795.4" cy="329.5" r="8.6" stroke="#4AAAE3"/>
<circle cx="1794.3" cy="339.5" r="8.6" stroke="#4AAAE3"/>
<circle cx="1789.9" cy="339.5" r="8.6" stroke="#4AAAE3"/>
<circle cx="1789.9" cy="348.3" r="8.6" stroke="#4AAAE3"/>
<circle cx="1768.9" cy="358.3" r="8.6" stroke="#4AAAE3"/>
<circle cx="1802.1" cy="366.1" r="8.6" stroke="#4AAAE3"/>
<circle cx="1803.2" cy="371.6" r="8.6" stroke="#4AAAE3"/>
<circle cx="1841.9" cy="362.7" r="8.6" stroke="#4AAAE3"/>
<circle cx="1866.3" cy="346.1" r="8.6" stroke="#4AAAE3"/>
<circle cx="1655.7" cy="453.0" r="8.6" stroke="#4AAAE3"/>
<circle cx="1655.7" cy="461.6" r="8.6" stroke="#4AAAE3"/>
<circle cx="1654.8" cy="470.2" r="8.6" stroke="#4AAAE3"/>
<circle cx="1655.7" cy="480.5" r="8.6" stroke="#4AAAE3"/>
<circle cx="1654.0" cy="485.7" r="8.6" stroke="#4AAAE3"/>
<circle cx="1655.7" cy="490.9" r="8.6" stroke="#4AAAE3"/>
<circle cx="1624.7" cy="490.9" r="8.6" stroke="#4AAAE3"/>
<circle cx="1732.7" cy="391.0" r="8.6" stroke="#4AAAE3"/>
<circle cx="1734.4" cy="397.9" r="8.6" stroke="#4AAAE3"/>
<circle cx="1729.2" cy="403.0" r="8.6" stroke="#4AAAE3"/>
<circle cx="1734.4" cy="404.8" r="8.6" stroke="#4AAAE3"/>
<circle cx="1729.2" cy="416.8" r="8.6" stroke="#4AAAE3"/>
<circle cx="1710.3" cy="409.9" r="8.6" stroke="#4AAAE3"/>
<circle cx="1711.1" cy="427.2" r="8.6" stroke="#4AAAE3"/>
<circle cx="1710.3" cy="432.3" r="8.6" stroke="#4AAAE3"/>
<circle cx="1711.1" cy="439.2" r="8.6" stroke="#4AAAE3"/>
<circle cx="1711.1" cy="446.1" r="8.6" stroke="#4AAAE3"/>
<circle cx="1711.1" cy="471.9" r="8.6" stroke="#4AAAE3"/>
<circle cx="1688.7" cy="413.4" r="8.6" stroke="#4AAAE3"/>
<circle cx="1687.0" cy="449.5" r="8.6" stroke="#4AAAE3"/>
<circle cx="1687.0" cy="453.0" r="8.6" stroke="#4AAAE3"/>
<circle cx="1676.7" cy="463.3" r="8.6" stroke="#4AAAE3"/>
<circle cx="1786.0" cy="385.8" r="8.6" stroke="#4AAAE3"/>
<circle cx="1770.5" cy="363.4" r="8.6" stroke="#4AAAE3"/>
<circle cx="1802.4" cy="396.0" r="8.6" stroke="#4AAAE3"/>
<circle cx="1561.0" cy="576.4" r="8.6" stroke="#4AAAE3"/>
<circle cx="1561.0" cy="581.6" r="8.6" stroke="#4AAAE3"/>
<circle cx="1581.7" cy="536.8" r="8.6" stroke="#4AAAE3"/>
<circle cx="1581.7" cy="547.2" r="8.6" stroke="#4AAAE3"/>
<circle cx="1581.7" cy="554.0" r="8.6" stroke="#4AAAE3"/>
<circle cx="1593.7" cy="559.2" r="8.6" stroke="#4AAAE3"/>
<circle cx="1593.7" cy="566.1" r="8.6" stroke="#4AAAE3"/>
<circle cx="1609.2" cy="530.0" r="8.6" stroke="#4AAAE3"/>
<circle cx="1609.2" cy="536.8" r="8.6" stroke="#4AAAE3"/>
<circle cx="1609.2" cy="514.4" r="8.6" stroke="#4AAAE3"/>
<circle cx="1609.2" cy="533.4" r="8.6" stroke="#4AAAE3"/>
<circle cx="1609.2" cy="540.3" r="8.6" stroke="#4AAAE3"/>
<circle cx="1609.2" cy="552.3" r="8.6" stroke="#4AAAE3"/>
<circle cx="1609.2" cy="555.8" r="8.6" stroke="#4AAAE3"/>
<circle cx="1609.2" cy="569.5" r="8.6" stroke="#4AAAE3"/>
<circle cx="1624.7" cy="488.6" r="8.6" stroke="#4AAAE3"/>
<circle cx="1626.4" cy="493.8" r="8.6" stroke="#4AAAE3"/>
<circle cx="1631.6" cy="519.6" r="8.6" stroke="#4AAAE3"/>
<circle cx="1633.0" cy="531.7" r="8.6" stroke="#4AAAE3"/>
<circle cx="1655.7" cy="485.2" r="8.6" stroke="#4AAAE3"/>
<circle cx="1655.7" cy="490.3" r="8.6" stroke="#4AAAE3"/>
<circle cx="1655.7" cy="506.0" r="8.6" stroke="#4AAAE3"/>
<circle cx="1678.0" cy="468.6" r="8.6" stroke="#4AAAE3"/>
<circle cx="1678.0" cy="494.4" r="8.6" stroke="#4AAAE3"/>
<circle cx="1687.0" cy="489.3" r="8.6" stroke="#4AAAE3"/>
<circle cx="1560.9" cy="576.3" r="8.6" stroke="#4AAAE3"/>
<circle cx="1560.9" cy="572.0" r="8.6" stroke="#4AAAE3"/>
<circle cx="1583.0" cy="524.6" r="8.6" stroke="#4AAAE3"/>
<circle cx="1590.0" cy="552.9" r="8.6" stroke="#4AAAE3"/>
<circle cx="1581.8" cy="561.5" r="8.6" stroke="#4AAAE3"/>
<circle cx="1607.7" cy="530.8" r="8.6" stroke="#4AAAE3"/>
<circle cx="1607.7" cy="536.9" r="8.6" stroke="#4AAAE3"/>
<circle cx="1607.7" cy="518.5" r="8.6" stroke="#4AAAE3"/>
<circle cx="1607.7" cy="534.4" r="8.6" stroke="#4AAAE3"/>
<circle cx="1607.7" cy="549.2" r="8.6" stroke="#4AAAE3"/>
<circle cx="1624.9" cy="520.9" r="8.6" stroke="#4AAAE3"/>
<circle cx="1624.9" cy="512.3" r="8.6" stroke="#4AAAE3"/>
<circle cx="1767.0" cy="425.0" r="8.6" stroke="#4AAAE3"/>
<circle cx="1732.0" cy="446.0" r="8.6" stroke="#4AAAE3"/>
<circle cx="1656.0" cy="486.0" r="8.6" stroke="#4AAAE3"/>
<circle cx="1687.0" cy="114.2" r="8.6" stroke="#0F9163"/>
<circle cx="1710.7" cy="96.5" r="8.6" stroke="#0F9163"/>
<circle cx="1728.4" cy="88.1" r="8.6" stroke="#0F9163"/>
<circle cx="1728.4" cy="73.2" r="8.6" stroke="#0F9163"/>
<circle cx="1732.8" cy="73.2" r="8.6" stroke="#0F9163"/>
<circle cx="1680.8" cy="213.8" r="8.6" stroke="#0F9163"/>
<circle cx="1656.5" cy="227.1" r="8.6" stroke="#0F9163"/>
<circle cx="1677.5" cy="227.1" r="8.6" stroke="#0F9163"/>
<circle cx="1710.7" cy="218.3" r="8.6" stroke="#0F9163"/>
<circle cx="1710.7" cy="224.9" r="8.6" stroke="#0F9163"/>
<circle cx="1899.6" cy="224.9" r="8.6" stroke="#0F9163"/>
<circle cx="1911.7" cy="219.4" r="8.6" stroke="#0F9163"/>
<circle cx="2143.9" cy="96.5" r="8.6" stroke="#0F9163"/>
<circle cx="2117.3" cy="114.2" r="8.6" stroke="#0F9163"/>
<circle cx="2143.9" cy="154.1" r="8.6" stroke="#0F9163"/>
<circle cx="2143.9" cy="160.5" r="8.6" stroke="#0F9163"/>
<circle cx="2143.9" cy="171.8" r="8.6" stroke="#0F9163"/>
<circle cx="2117.3" cy="182.9" r="8.6" stroke="#0F9163"/>
<circle cx="2117.3" cy="188.4" r="8.6" stroke="#0F9163"/>
<circle cx="2117.3" cy="186.0" r="8.6" stroke="#0F9163"/>
<circle cx="2035.4" cy="223.8" r="8.6" stroke="#0F9163"/>
<circle cx="2035.4" cy="238.2" r="8.6" stroke="#0F9163"/>
<circle cx="1656.4" cy="270.4" r="8.6" stroke="#0F9163"/>
<circle cx="1654.2" cy="284.1" r="8.6" stroke="#0F9163"/>
<circle cx="1687.4" cy="280.4" r="8.6" stroke="#0F9163"/>
<circle cx="1687.4" cy="290.8" r="8.6" stroke="#0F9163"/>
<circle cx="1680.3" cy="326.2" r="8.6" stroke="#0F9163"/>
<circle cx="1678.6" cy="337.3" r="8.6" stroke="#0F9163"/>
<circle cx="1680.8" cy="338.4" r="8.6" stroke="#0F9163"/>
<circle cx="1677.9" cy="348.8" r="8.6" stroke="#0F9163"/>
<circle cx="1687.4" cy="356.8" r="8.6" stroke="#0F9163"/>
<circle cx="1710.7" cy="339.5" r="8.6" stroke="#0F9163"/>
<circle cx="1656.4" cy="347.2" r="8.6" stroke="#0F9163"/>
<circle cx="1655.3" cy="359.4" r="8.6" stroke="#0F9163"/>
<circle cx="1655.3" cy="371.6" r="8.6" stroke="#0F9163"/>
<circle cx="1654.2" cy="374.9" r="8.6" stroke="#0F9163"/>
<circle cx="1625.4" cy="364.9" r="8.6" stroke="#0F9163"/>
<circle cx="1623.2" cy="373.8" r="8.6" stroke="#0F9163"/>
<circle cx="1679.7" cy="376.0" r="8.6" stroke="#0F9163"/>
<circle cx="1710.7" cy="377.1" r="8.6" stroke="#0F9163"/>
<circle cx="1885.1" cy="280.1" r="8.6" stroke="#0F9163"/>
<circle cx="1872.9" cy="290.3" r="8.6" stroke="#0F9163"/>
<circle cx="1791.0" cy="377.1" r="8.6" stroke="#0F9163"/>
<circle cx="1841.9" cy="355.0" r="8.6" stroke="#0F9163"/>
<circle cx="1841.9" cy="368.3" r="8.6" stroke="#0F9163"/>
<circle cx="1839.7" cy="374.9" r="8.6" stroke="#0F9163"/>
<circle cx="1829.7" cy="374.9" r="8.6" stroke="#0F9163"/>
<circle cx="1866.3" cy="338.4" r="8.6" stroke="#0F9163"/>
<circle cx="1866.3" cy="355.0" r="8.6" stroke="#0F9163"/>
<circle cx="1872.9" cy="352.8" r="8.6" stroke="#0F9163"/>
<circle cx="1885.1" cy="346.1" r="8.6" stroke="#0F9163"/>
<circle cx="1899.5" cy="337.3" r="8.6" stroke="#0F9163"/>
<circle cx="1911.7" cy="328.0" r="8.6" stroke="#0F9163"/>
<circle cx="2035.1" cy="244.3" r="8.6" stroke="#0F9163"/>
<circle cx="2035.1" cy="246.0" r="8.6" stroke="#0F9163"/>
<circle cx="1624.7" cy="366.0" r="8.6" stroke="#0F9163"/>
<circle cx="1655.7" cy="367.7" r="8.6" stroke="#0F9163"/>
<circle cx="1655.7" cy="377.2" r="8.6" stroke="#0F9163"/>
<circle cx="1655.7" cy="382.4" r="8.6" stroke="#0F9163"/>
<circle cx="1655.7" cy="393.6" r="8.6" stroke="#0F9163"/>
<circle cx="1655.7" cy="401.3" r="8.6" stroke="#0F9163"/>
<circle cx="1654.0" cy="406.5" r="8.6" stroke="#0F9163"/>
<circle cx="1655.7" cy="425.4" r="8.6" stroke="#0F9163"/>
<circle cx="1654.0" cy="432.3" r="8.6" stroke="#0F9163"/>
<circle cx="1655.7" cy="435.8" r="8.6" stroke="#0F9163"/>
<circle cx="1655.7" cy="444.4" r="8.6" stroke="#0F9163"/>
<circle cx="1655.7" cy="451.3" r="8.6" stroke="#0F9163"/>
<circle cx="1655.7" cy="494.3" r="8.6" stroke="#0F9163"/>
<circle cx="1625.6" cy="393.6" r="8.6" stroke="#0F9163"/>
<circle cx="1623.9" cy="403.0" r="8.6" stroke="#0F9163"/>
<circle cx="1631.6" cy="411.7" r="8.6" stroke="#0F9163"/>
<circle cx="1609.2" cy="413.4" r="8.6" stroke="#0F9163"/>
<circle cx="1622.1" cy="416.8" r="8.6" stroke="#0F9163"/>
<circle cx="1630.7" cy="427.2" r="8.6" stroke="#0F9163"/>
<circle cx="1632.5" cy="432.3" r="8.6" stroke="#0F9163"/>
<circle cx="1633.3" cy="439.2" r="8.6" stroke="#0F9163"/>
<circle cx="1624.7" cy="444.4" r="8.6" stroke="#0F9163"/>
<circle cx="1626.4" cy="449.5" r="8.6" stroke="#0F9163"/>
<circle cx="1609.2" cy="453.0" r="8.6" stroke="#0F9163"/>
<circle cx="1610.1" cy="458.2" r="8.6" stroke="#0F9163"/>
<circle cx="1626.4" cy="459.9" r="8.6" stroke="#0F9163"/>
<circle cx="1632.5" cy="469.4" r="8.6" stroke="#0F9163"/>
<circle cx="1609.2" cy="465.0" r="8.6" stroke="#0F9163"/>
<circle cx="1609.2" cy="473.7" r="8.6" stroke="#0F9163"/>
<circle cx="1610.9" cy="480.5" r="8.6" stroke="#0F9163"/>
<circle cx="1609.2" cy="489.2" r="8.6" stroke="#0F9163"/>
<circle cx="1626.4" cy="470.2" r="8.6" stroke="#0F9163"/>
<circle cx="1623.0" cy="480.5" r="8.6" stroke="#0F9163"/>
<circle cx="1633.3" cy="496.0" r="8.6" stroke="#0F9163"/>
<circle cx="1580.8" cy="458.2" r="8.6" stroke="#0F9163"/>
<circle cx="1588.5" cy="469.4" r="8.6" stroke="#0F9163"/>
<circle cx="1587.7" cy="473.7" r="8.6" stroke="#0F9163"/>
<circle cx="1588.5" cy="482.3" r="8.6" stroke="#0F9163"/>
<circle cx="1586.8" cy="490.9" r="8.6" stroke="#0F9163"/>
<circle cx="1581.7" cy="494.3" r="8.6" stroke="#0F9163"/>
<circle cx="1561.0" cy="492.6" r="8.6" stroke="#0F9163"/>
<circle cx="1687.0" cy="360.0" r="8.6" stroke="#0F9163"/>
<circle cx="1678.4" cy="378.1" r="8.6" stroke="#0F9163"/>
<circle cx="1680.1" cy="380.7" r="8.6" stroke="#0F9163"/>
<circle cx="1710.3" cy="385.8" r="8.6" stroke="#0F9163"/>
<circle cx="1711.1" cy="456.4" r="8.6" stroke="#0F9163"/>
<circle cx="1711.1" cy="461.6" r="8.6" stroke="#0F9163"/>
<circle cx="1711.1" cy="465.0" r="8.6" stroke="#0F9163"/>
<circle cx="1679.3" cy="406.5" r="8.6" stroke="#0F9163"/>
<circle cx="1687.9" cy="403.9" r="8.6" stroke="#0F9163"/>
<circle cx="1687.0" cy="409.9" r="8.6" stroke="#0F9163"/>
<circle cx="1678.4" cy="416.8" r="8.6" stroke="#0F9163"/>
<circle cx="1678.4" cy="423.7" r="8.6" stroke="#0F9163"/>
<circle cx="1684.4" cy="465.0" r="8.6" stroke="#0F9163"/>
<circle cx="1687.0" cy="471.9" r="8.6" stroke="#0F9163"/>
<circle cx="1675.8" cy="471.9" r="8.6" stroke="#0F9163"/>
<circle cx="1687.0" cy="478.8" r="8.6" stroke="#0F9163"/>
<circle cx="1687.0" cy="482.3" r="8.6" stroke="#0F9163"/>
<circle cx="1677.6" cy="485.7" r="8.6" stroke="#0F9163"/>
<circle cx="1675.8" cy="490.9" r="8.6" stroke="#0F9163"/>
<circle cx="1732.7" cy="447.8" r="8.6" stroke="#0F9163"/>
<circle cx="1732.7" cy="451.3" r="8.6" stroke="#0F9163"/>
<circle cx="1729.2" cy="451.3" r="8.6" stroke="#0F9163"/>
<circle cx="1736.1" cy="446.1" r="8.6" stroke="#0F9163"/>
<circle cx="1764.5" cy="408.2" r="8.6" stroke="#0F9163"/>
<circle cx="1770.5" cy="404.8" r="8.6" stroke="#0F9163"/>
<circle cx="1763.7" cy="428.9" r="8.6" stroke="#0F9163"/>
<circle cx="1770.5" cy="425.4" r="8.6" stroke="#0F9163"/>
<circle cx="1787.8" cy="411.7" r="8.6" stroke="#0F9163"/>
<circle cx="1787.8" cy="382.4" r="8.6" stroke="#0F9163"/>
<circle cx="1797.2" cy="379.6" r="8.6" stroke="#0F9163"/>
<circle cx="1802.4" cy="391.7" r="8.6" stroke="#0F9163"/>
<circle cx="1802.4" cy="402.0" r="8.6" stroke="#0F9163"/>
<circle cx="1785.2" cy="412.3" r="8.6" stroke="#0F9163"/>
<circle cx="1830.0" cy="377.0" r="8.6" stroke="#0F9163"/>
<circle cx="1828.2" cy="383.0" r="8.6" stroke="#0F9163"/>
<circle cx="1871.3" cy="360.7" r="8.6" stroke="#0F9163"/>
<circle cx="1561.0" cy="494.6" r="8.6" stroke="#0F9163"/>
<circle cx="1561.0" cy="519.6" r="8.6" stroke="#0F9163"/>
<circle cx="1561.0" cy="526.5" r="8.6" stroke="#0F9163"/>
<circle cx="1561.0" cy="538.5" r="8.6" stroke="#0F9163"/>
<circle cx="1561.0" cy="547.2" r="8.6" stroke="#0F9163"/>
<circle cx="1561.0" cy="555.8" r="8.6" stroke="#0F9163"/>
<circle cx="1561.0" cy="566.1" r="8.6" stroke="#0F9163"/>
<circle cx="1561.0" cy="569.5" r="8.6" stroke="#0F9163"/>
<circle cx="1561.0" cy="573.0" r="8.6" stroke="#0F9163"/>
<circle cx="1581.7" cy="496.4" r="8.6" stroke="#0F9163"/>
<circle cx="1590.3" cy="490.3" r="8.6" stroke="#0F9163"/>
<circle cx="1588.5" cy="511.0" r="8.6" stroke="#0F9163"/>
<circle cx="1581.7" cy="519.6" r="8.6" stroke="#0F9163"/>
<circle cx="1581.7" cy="524.8" r="8.6" stroke="#0F9163"/>
<circle cx="1588.5" cy="531.7" r="8.6" stroke="#0F9163"/>
<circle cx="1581.7" cy="552.3" r="8.6" stroke="#0F9163"/>
<circle cx="1581.7" cy="555.8" r="8.6" stroke="#0F9163"/>
<circle cx="1593.7" cy="548.9" r="8.6" stroke="#0F9163"/>
<circle cx="1609.2" cy="488.6" r="8.6" stroke="#0F9163"/>
<circle cx="1609.2" cy="497.2" r="8.6" stroke="#0F9163"/>
<circle cx="1609.2" cy="523.0" r="8.6" stroke="#0F9163"/>
<circle cx="1631.6" cy="499.0" r="8.6" stroke="#0F9163"/>
<circle cx="1624.7" cy="519.6" r="8.6" stroke="#0F9163"/>
<circle cx="1626.4" cy="523.0" r="8.6" stroke="#0F9163"/>
<circle cx="1624.7" cy="526.5" r="8.6" stroke="#0F9163"/>
<circle cx="1655.7" cy="500.7" r="8.6" stroke="#0F9163"/>
<circle cx="1655.7" cy="504.1" r="8.6" stroke="#0F9163"/>
<circle cx="1678.0" cy="470.3" r="8.6" stroke="#0F9163"/>
<circle cx="1678.0" cy="485.8" r="8.6" stroke="#0F9163"/>
<circle cx="1687.0" cy="480.7" r="8.6" stroke="#0F9163"/>
<circle cx="1560.9" cy="501.2" r="8.6" stroke="#0F9163"/>
<circle cx="1560.9" cy="512.3" r="8.6" stroke="#0F9163"/>
<circle cx="1560.9" cy="529.5" r="8.6" stroke="#0F9163"/>
<circle cx="1560.9" cy="546.7" r="8.6" stroke="#0F9163"/>
<circle cx="1560.9" cy="554.1" r="8.6" stroke="#0F9163"/>
<circle cx="1560.9" cy="561.5" r="8.6" stroke="#0F9163"/>
<circle cx="1560.9" cy="566.4" r="8.6" stroke="#0F9163"/>
<circle cx="1560.9" cy="568.9" r="8.6" stroke="#0F9163"/>
<circle cx="1589.2" cy="509.8" r="8.6" stroke="#0F9163"/>
<circle cx="1581.8" cy="520.9" r="8.6" stroke="#0F9163"/>
<circle cx="1589.2" cy="529.5" r="8.6" stroke="#0F9163"/>
<circle cx="1581.8" cy="551.7" r="8.6" stroke="#0F9163"/>
<circle cx="1583.0" cy="556.6" r="8.6" stroke="#0F9163"/>
<circle cx="1607.7" cy="503.7" r="8.6" stroke="#0F9163"/>
<circle cx="1607.7" cy="516.0" r="8.6" stroke="#0F9163"/>
<circle cx="1624.9" cy="522.1" r="8.6" stroke="#0F9163"/>
<circle cx="1624.9" cy="524.6" r="8.6" stroke="#0F9163"/>
<circle cx="1631.0" cy="433.2" r="8.6" stroke="#0F9163"/>
<circle cx="1629.8" cy="449.2" r="8.6" stroke="#0F9163"/>
<circle cx="1608.9" cy="457.8" r="8.6" stroke="#0F9163"/>
<circle cx="1608.9" cy="464.0" r="8.6" stroke="#0F9163"/>
<circle cx="1608.9" cy="470.1" r="8.6" stroke="#0F9163"/>
<circle cx="1608.9" cy="478.7" r="8.6" stroke="#0F9163"/>
<circle cx="1608.9" cy="486.1" r="8.6" stroke="#0F9163"/>
<circle cx="1608.9" cy="493.5" r="8.6" stroke="#0F9163"/>
<circle cx="1628.6" cy="461.5" r="8.6" stroke="#0F9163"/>
<circle cx="1629.8" cy="468.9" r="8.6" stroke="#0F9163"/>
<circle cx="1631.0" cy="473.8" r="8.6" stroke="#0F9163"/>
<circle cx="1586.7" cy="484.9" r="8.6" stroke="#0F9163"/>
<circle cx="1576.9" cy="493.5" r="8.6" stroke="#0F9163"/>
<circle cx="1732.0" cy="449.0" r="8.6" stroke="#0F9163"/>
<circle cx="1733.5" cy="447.0" r="8.6" stroke="#0F9163"/>
<circle cx="1767.0" cy="428.0" r="8.6" stroke="#0F9163"/>
<circle cx="1768.5" cy="426.0" r="8.6" stroke="#0F9163"/>
<circle cx="1790.0" cy="410.0" r="8.6" stroke="#0F9163"/>
<circle cx="1791.5" cy="408.0" r="8.6" stroke="#0F9163"/>
<circle cx="1832.0" cy="382.0" r="8.6" stroke="#0F9163"/>
<circle cx="1833.5" cy="380.0" r="8.6" stroke="#0F9163"/>
<circle cx="1842.0" cy="376.0" r="8.6" stroke="#0F9163"/>
<circle cx="1843.5" cy="374.0" r="8.6" stroke="#0F9163"/>
<circle cx="1802.0" cy="400.0" r="8.6" stroke="#0F9163"/>
<circle cx="1868.0" cy="358.0" r="8.6" stroke="#0F9163"/>
<circle cx="1887.0" cy="345.0" r="8.6" stroke="#0F9163"/>
<circle cx="1900.0" cy="337.0" r="8.6" stroke="#0F9163"/>
<circle cx="1912.0" cy="328.0" r="8.6" stroke="#0F9163"/>
<circle cx="1656.0" cy="497.0" r="8.6" stroke="#0F9163"/>
<circle cx="1678.0" cy="480.0" r="8.6" stroke="#0F9163"/>
<circle cx="1687.0" cy="476.0" r="8.6" stroke="#0F9163"/>
</g>
<line x1="265.3" y1="48.1" x2="265.3" y2="614.3000000000001" stroke="#000" stroke-width="4.3"/>
<line x1="265.3" y1="613.6" x2="907" y2="613.6" stroke="#000" stroke-width="4.3"/>
<line x1="253.10000000000002" y1="56.3" x2="265.3" y2="56.3" stroke="#333" stroke-width="4.3"/>
<line x1="253.10000000000002" y1="181.4" x2="265.3" y2="181.4" stroke="#333" stroke-width="4.3"/>
<line x1="253.10000000000002" y1="306.5" x2="265.3" y2="306.5" stroke="#333" stroke-width="4.3"/>
<line x1="253.10000000000002" y1="431.6" x2="265.3" y2="431.6" stroke="#333" stroke-width="4.3"/>
<line x1="253.10000000000002" y1="556.8" x2="265.3" y2="556.8" stroke="#333" stroke-width="4.3"/>
<line x1="335.6" y1="613.6" x2="335.6" y2="625.8000000000001" stroke="#333" stroke-width="4.3"/>
<line x1="512.0" y1="613.6" x2="512.0" y2="625.8000000000001" stroke="#333" stroke-width="4.3"/>
<line x1="688.3" y1="613.6" x2="688.3" y2="625.8000000000001" stroke="#333" stroke-width="4.3"/>
<line x1="864.5" y1="613.6" x2="864.5" y2="625.8000000000001" stroke="#333" stroke-width="4.3"/>
<text x="244.0" y="70.5" class="tk" text-anchor="end">5.5</text>
<text x="244.0" y="195.6" class="tk" text-anchor="end">5.0</text>
<text x="244.0" y="320.7" class="tk" text-anchor="end">4.5</text>
<text x="244.0" y="445.8" class="tk" text-anchor="end">4.0</text>
<text x="244.0" y="571.0" class="tk" text-anchor="end">3.5</text>
<text x="335.6" y="663.7" class="tk" text-anchor="middle">3.5</text>
<text x="512.0" y="663.7" class="tk" text-anchor="middle">4.0</text>
<text x="688.3" y="663.7" class="tk" text-anchor="middle">4.5</text>
<text x="864.5" y="663.7" class="tk" text-anchor="middle">5.0</text>
<line x1="1530.5" y1="48.1" x2="1530.5" y2="614.3000000000001" stroke="#000" stroke-width="4.3"/>
<line x1="1530.5" y1="613.6" x2="2172" y2="613.6" stroke="#000" stroke-width="4.3"/>
<line x1="1518.3" y1="56.3" x2="1530.5" y2="56.3" stroke="#333" stroke-width="4.3"/>
<line x1="1518.3" y1="181.4" x2="1530.5" y2="181.4" stroke="#333" stroke-width="4.3"/>
<line x1="1518.3" y1="306.5" x2="1530.5" y2="306.5" stroke="#333" stroke-width="4.3"/>
<line x1="1518.3" y1="431.6" x2="1530.5" y2="431.6" stroke="#333" stroke-width="4.3"/>
<line x1="1518.3" y1="556.8" x2="1530.5" y2="556.8" stroke="#333" stroke-width="4.3"/>
<line x1="1572.2" y1="613.6" x2="1572.2" y2="625.8000000000001" stroke="#333" stroke-width="4.3"/>
<line x1="1758.0" y1="613.6" x2="1758.0" y2="625.8000000000001" stroke="#333" stroke-width="4.3"/>
<line x1="1943.7" y1="613.6" x2="1943.7" y2="625.8000000000001" stroke="#333" stroke-width="4.3"/>
<line x1="2129.2" y1="613.6" x2="2129.2" y2="625.8000000000001" stroke="#333" stroke-width="4.3"/>
<text x="1509.2" y="70.5" class="tk" text-anchor="end">5.5</text>
<text x="1509.2" y="195.6" class="tk" text-anchor="end">5.0</text>
<text x="1509.2" y="320.7" class="tk" text-anchor="end">4.5</text>
<text x="1509.2" y="445.8" class="tk" text-anchor="end">4.0</text>
<text x="1509.2" y="571.0" class="tk" text-anchor="end">3.5</text>
<text x="1572.2" y="663.7" class="tk" text-anchor="middle">3.5</text>
<text x="1758.0" y="663.7" class="tk" text-anchor="middle">4.0</text>
<text x="1943.7" y="663.7" class="tk" text-anchor="middle">4.5</text>
<text x="2129.2" y="663.7" class="tk" text-anchor="middle">5.0</text>
</svg>
</body></html>
